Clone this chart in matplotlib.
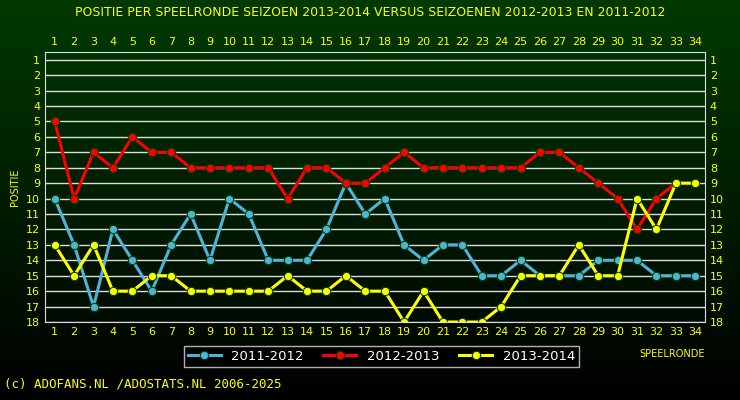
import matplotlib
matplotlib.use("Agg")
import matplotlib.pyplot as plt
import numpy as np
from matplotlib.colors import LinearSegmentedColormap

rounds = list(range(1, 35))
s2011 = [10, 13, 17, 12, 14, 16, 13, 11, 14, 10, 11, 14, 14, 14, 12, 9, 11, 10,
         13, 14, 13, 13, 15, 15, 14, 15, 15, 15, 14, 14, 14, 15, 15, 15]
s2012 = [5, 10, 7, 8, 6, 7, 7, 8, 8, 8, 8, 8, 10, 8, 8, 9, 9, 8, 7, 8, 8, 8, 8,
         8, 8, 7, 7, 8, 9, 10, 12, 10, 9]
s2013 = [13, 15, 13, 16, 16, 15, 15, 16, 16, 16, 16, 16, 15, 16, 16, 15, 16, 16,
         18, 16, 18, 18, 18, 17, 15, 15, 15, 13, 15, 15, 10, 12, 9, 9]

YEL = "#ffff00"
fig = plt.figure(figsize=(7.4, 4.0), dpi=100)
fig.patch.set_facecolor("#003300")
# background gradient
bg = fig.add_axes([0, 0, 1, 1], zorder=-10)
grad = np.linspace(0, 1, 256).reshape(-1, 1)
cm = LinearSegmentedColormap.from_list("g", ["#000000", "#003a00"])
bg.imshow(grad, aspect="auto", cmap=cm, origin="lower", extent=[0, 1, 0, 1])
bg.axis("off")

ax = fig.add_axes([45 / 740, 78 / 400, 660 / 740, 270 / 400])
ax.set_facecolor("none")
kw = dict(lw=2.2, marker="o", ms=6, mec="#004400", mew=0.8)
ax.plot(rounds, s2011, color="#4fb3d9", label="2011-2012", **kw)
ax.plot(rounds[:len(s2012)], s2012, color="#ff0000", label="2012-2013", **kw)
ax.plot(rounds, s2013, color=YEL, label="2013-2014", **kw)
ax.set_xlim(0.5, 34.5)
ax.set_ylim(18, 0.5)
ax.set_yticks(range(1, 19))
ax.set_xticks(rounds)
for y in range(1, 19):
    ax.axhline(y, color="#dddddd", lw=1, zorder=0)
ax.tick_params(colors=YEL, labelsize=8, length=0, top=True, labeltop=True,
               right=True, labelright=True)
for lbl in ax.get_xticklabels() + ax.get_yticklabels():
    lbl.set_color(YEL)
for sp in ax.spines.values():
    sp.set_color("#dddddd")
ax.set_ylabel("POSITIE", color=YEL, fontsize=7)
ax.text(1.0, -0.13, "SPEELRONDE", transform=ax.transAxes, color=YEL,
        fontsize=7, ha="right")
leg = ax.legend(loc="upper left", bbox_to_anchor=(0.2, -0.065), ncol=3,
                frameon=True, fontsize=9.5, handlelength=2.5, columnspacing=1.5,
                borderpad=0.3, fancybox=False)
leg.get_frame().set_facecolor("black")
leg.get_frame().set_edgecolor("#dddddd")
for t in leg.get_texts():
    t.set_color("white")
fig.text(0.5, 0.968, "POSITIE PER SPEELRONDE SEIZOEN 2013-2014 VERSUS SEIZOENEN 2012-2013 EN 2011-2012",
         color=YEL, fontsize=9, ha="center", va="center")
fig.text(0.005, 0.04, "(c) ADOFANS.NL /ADOSTATS.NL 2006-2025", color=YEL,
         fontsize=9, family="DejaVu Sans Mono", va="center")
fig.savefig("out.png", dpi=100)
